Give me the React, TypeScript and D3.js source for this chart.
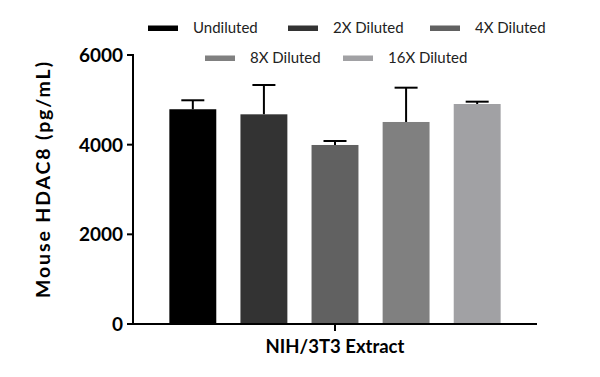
import React from "react";
import * as d3 from "d3";

const groups = ["NIH/3T3 Extract"];
const series = ["Undiluted", "2X Diluted", "4X Diluted", "8X Diluted", "16X Diluted"];
const values = [4790, 4677, 3993, 4506, 4907];
const errors = [200, 654, 89, 765, 52];
const colors = ["#000000", "#333333", "#616161", "#808080", "#a1a1a4"];
const yTicks = [0, 2000, 4000, 6000];
const legendRows = [
  [0, 1, 2],
  [3, 4],
];
const legendX = [148, 288, 430, 205, 343];
const legendY = [28, 58];

const FONT = "Lato, 'Open Sans', sans-serif";

export default function App() {
  const W = 600;
  const H = 377;
  const x0 = d3.scaleBand<string>().domain(groups).range([133, 537]).paddingInner(0.0989).paddingOuter(0.0989);
  const y = d3.scaleLinear().domain([0, 6000]).range([324, 55]);
  const x1 = d3
    .scaleBand<string>()
    .domain(series)
    .range([0, x0.bandwidth()])
    .paddingInner(0.34)
    .paddingOuter(0);

  return (
    <svg width={W} height={H} style={{ position: "absolute", left: 0, top: 0 }}>
      <rect width={W} height={H} fill="#fff" />
      {groups.map((g) => (
        <g key={g} transform={`translate(${x0(g)},0)`}>
          {series.map((s, i) => {
            const bx = x1(s)!;
            const bw = x1.bandwidth();
            const cx = bx + bw / 2;
            return (
              <g key={s}>
                <line x1={cx} x2={cx} y1={y(values[i])} y2={y(values[i] + errors[i])} stroke="#000" strokeWidth={2} />
                <line x1={cx - 11.5} x2={cx + 11.5} y1={y(values[i] + errors[i])} y2={y(values[i] + errors[i])} stroke="#000" strokeWidth={2} />
                <rect x={bx} y={y(values[i])} width={bw} height={y(0) - y(values[i])} fill={colors[i]} />
              </g>
            );
          })}
        </g>
      ))}
      {/* Y axis */}
      <line x1={133} x2={133} y1={y(6000) - 1} y2={y(0) + 1} stroke="#000" strokeWidth={2} />
      {yTicks.map((t) => (
        <g key={t}>
          <line x1={127} x2={133} y1={y(t)} y2={y(t)} stroke="#000" strokeWidth={2} />
          <text x={123} y={y(t)} dy="0.36em" textAnchor="end" fontFamily={FONT} fontWeight="bold" fontSize={19} fill="#000">
            {t}
          </text>
        </g>
      ))}
      {/* X axis */}
      <line x1={132} x2={537} y1={y(0)} y2={y(0)} stroke="#000" strokeWidth={2} />
      {groups.map((g) => (
        <g key={g}>
          <line x1={x0(g)! + x0.bandwidth() / 2} x2={x0(g)! + x0.bandwidth() / 2} y1={y(0)} y2={y(0) + 7} stroke="#000" strokeWidth={2} />
          <text x={x0(g)! + x0.bandwidth() / 2} y={353} textAnchor="middle" fontFamily={FONT} fontWeight="bold" fontSize={18.5} fill="#000">
            {g}
          </text>
        </g>
      ))}
      <text
        transform="translate(50,180) rotate(-90)"
        textAnchor="middle"
        fontFamily={FONT}
        fontWeight="bold"
        fontSize={19.5}
        textLength={236}
        lengthAdjust="spacing"
        fill="#000"
      >
        Mouse HDAC8 (pg/mL)
      </text>
      {/* Legend */}
      {legendRows.map((row, r) =>
        row.map((i) => (
          <g key={i} transform={`translate(${legendX[i]},${legendY[r]})`}>
            <rect x={0} y={-2.5} width={30} height={5.5} fill={colors[i]} />
            <text x={45} y={0} dy="0.36em" fontFamily={FONT} fontSize={15} fill="#222">
              {series[i]}
            </text>
          </g>
        ))
      )}
    </svg>
  );
}
